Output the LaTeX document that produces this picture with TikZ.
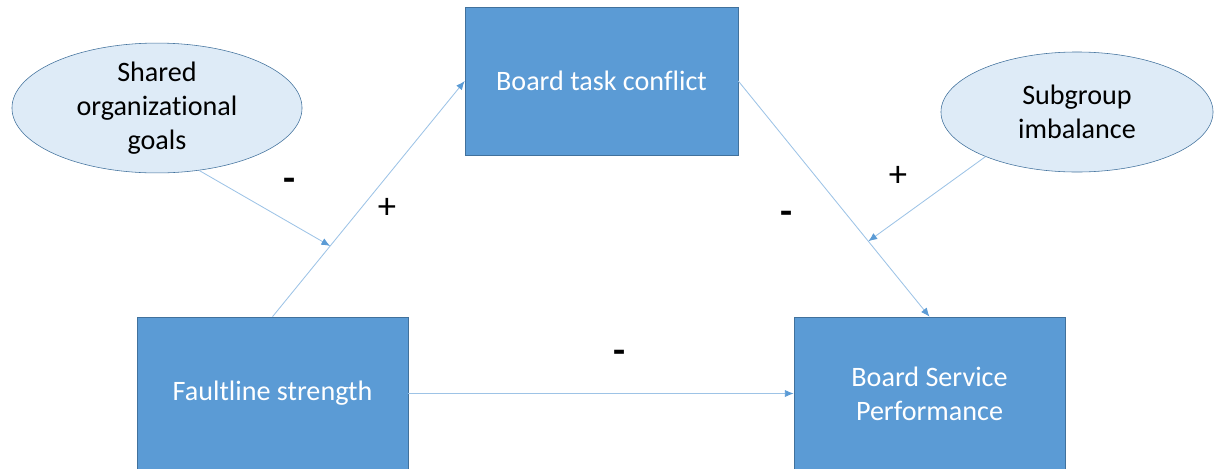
\documentclass[tikz,border=0pt]{standalone}
\usepackage{fontspec}
\setmainfont{Carlito}[Ligatures=NoCommon]
\definecolor{boxblue}{HTML}{5B9BD5}
\definecolor{edgeblue}{HTML}{41719C}
\definecolor{paleblue}{HTML}{DEEBF7}
\definecolor{linkblue}{HTML}{9DC3E6}
\usetikzlibrary{arrows.meta, shapes.geometric}
\tikzset{
  box/.style={draw=edgeblue, fill=boxblue, text=white, align=center,
              font=\fontsize{20}{24}\selectfont, inner sep=0pt},
  goal/.style={ellipse, draw=edgeblue, fill=paleblue, align=center,
               font=\fontsize{20}{24}\selectfont, inner sep=0pt},
  flow/.style={-{Latex[length=2.2mm,width=1.8mm,color=boxblue]}, line width=0.6pt, draw=linkblue},
  sign/.style={font=\fontsize{26}{28}\selectfont, inner sep=0pt},
  minus/.style={font=\fontsize{28}{30}\selectfont\bfseries, inner sep=0pt},
}

\begin{document}
\begin{tikzpicture}[x=0.025cm,y=-0.025cm]
        \useasboundingbox (0,0) rectangle (1215,468);
        \node[box,minimum width=6.825cm,minimum height=3.7cm] (task) at (601.5,81) {Board task conflict};
        \node[box,minimum width=6.775cm,minimum height=3.825cm] (fault) at (272.5,393.5) {Faultline strength};
        \node[box,minimum width=6.775cm,minimum height=3.825cm] (bsp) at (929.5,393.5) {Board Service\\Performance};
        \node[goal,minimum width=7.25cm,minimum height=3.225cm] (goals) at (157,108) {Shared\\organizational\\goals};
        \node[goal,minimum width=6.8cm,minimum height=3cm] (imb) at (1077,112) {Subgroup\\imbalance};
        \draw[flow] (fault.north) -- coordinate[pos=.3] (m1) (task.west);
        \draw[flow] (task.east) -- coordinate[pos=.68] (m2) (bsp.north);
        \draw[flow] (fault.east) -- (bsp.west);
        \draw[flow] (goals.-56) -- (m1);
        \draw[flow] (imb.-154) -- (m2);
        \node[minus] (s1) at (290,185) {-};
        \node[sign] (s2) at (387,208) {+};
        \node[minus] (s3) at (787,218) {-};
        \node[sign] (s4) at (898,176) {+};
        \node[minus] (s5) at (620,357) {-};
      \end{tikzpicture}
\end{document}
